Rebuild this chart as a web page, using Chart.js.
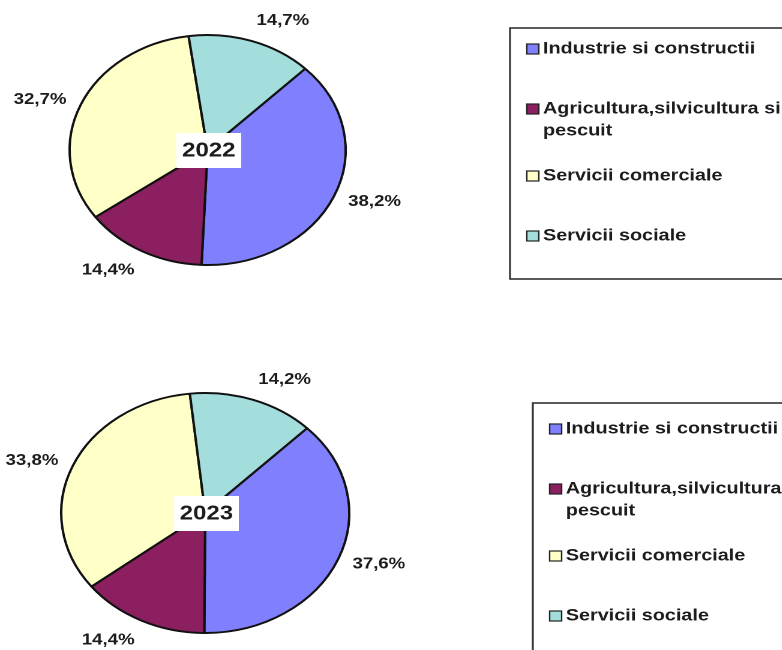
<!DOCTYPE html>
<html>
<head>
<meta charset="utf-8">
<script src="https://cdn.jsdelivr.net/npm/chart.js@4.4.0/dist/chart.umd.min.js"></script>
<style>
    html, body { margin: 0; padding: 0; background: #fff; }
    #page { position: relative; width: 782px; height: 650px; overflow: hidden; }
    /* the original picture is stretched sideways, so the pies are ellipses */
    .wrap { position: absolute; left: 0; width: 652px; height: 325px; transform: scaleX(1.2); transform-origin: 0 0; }
</style>
</head>
<body>
<div id="page">
    <div class="wrap" style="top:0"><canvas id="pie2022"></canvas></div>
    <div class="wrap" style="top:325px"><canvas id="pie2023"></canvas></div>
</div>
<script>
const categories = ['Industrie si constructii', 'Agricultura,silvicultura si pescuit', 'Servicii comerciale', 'Servicii sociale'];
const years = ['2022', '2023'];
const values2022 = [38.2, 14.4, 32.7, 14.7];
const values2023 = [37.6, 14.4, 33.8, 14.2];
const colors = ['#8080ff', '#8b1f5f', '#ffffc8', '#a3dedc'];

const FONT = '"Liberation Sans", Arial, sans-serif';
const TEXT = '#1c1c1c';

function wrapText(ctx, text, maxWidth) {
    const words = text.split(' ');
    const lines = [];
    let line = '';
    words.forEach(w => {
        const test = line ? line + ' ' + w : w;
        if (line && ctx.measureText(test).width > maxWidth) {
            lines.push(line);
            line = w;
        } else {
            line = test;
        }
    });
    if (line) lines.push(line);
    return lines;
}

// Procente in afara feliilor + anul in centru
const sliceLabels = {
    id: 'sliceLabels',
    afterDatasetsDraw(chart, args, opts) {
        const ctx = chart.ctx;
        const meta = chart.getDatasetMeta(0);
        const data = chart.data.datasets[0].data;
        ctx.save();
        ctx.font = 'bold 15.5px ' + FONT;
        ctx.fillStyle = TEXT;
        let cx = 0, cy = 0;
        meta.data.forEach((arc, i) => {
            const p = arc.getProps(['x', 'y', 'startAngle', 'endAngle', 'outerRadius'], true);
            cx = p.x; cy = p.y;
            const mid = (p.startAngle + p.endAngle) / 2;
            const c = Math.cos(mid), s = Math.sin(mid);
            const r = p.outerRadius + 13;
            const px = p.x + r * c;
            const py = p.y + r * s;
            ctx.textAlign = c >= 0 ? 'left' : 'right';
            if (Math.abs(s) > 0.75) {
                ctx.textBaseline = s < 0 ? 'bottom' : 'top';
            } else {
                ctx.textBaseline = 'middle';
            }
            ctx.fillText(data[i].toFixed(1).replace('.', ',') + '%', px, py);
        });
        // caseta cu anul
        ctx.fillStyle = '#fff';
        ctx.fillRect(cx - 26, cy - 17, 54, 35);
        ctx.fillStyle = TEXT;
        ctx.font = 'bold 20px ' + FONT;
        ctx.textAlign = 'center';
        ctx.textBaseline = 'middle';
        ctx.fillText(opts.year, cx + 1, cy + 1);
        ctx.restore();
    }
};

// Legenda in chenar, la dreapta
const boxLegend = {
    id: 'boxLegend',
    afterDraw(chart, args, opts) {
        const ctx = chart.ctx;
        ctx.save();
        ctx.strokeStyle = '#333';
        ctx.lineWidth = 1.6;
        ctx.strokeRect(opts.x, opts.top, 400, opts.bottom - opts.top);
        ctx.font = 'bold 16.5px ' + FONT;
        ctx.textBaseline = 'middle';
        ctx.textAlign = 'left';
        let y = opts.firstRow;
        chart.data.labels.forEach((label, i) => {
            const lines = wrapText(ctx, label, 210);
            ctx.fillStyle = colors[i];
            ctx.fillRect(opts.x + 14, y - 5, 10, 10);
            ctx.strokeStyle = '#222';
            ctx.lineWidth = 1.2;
            ctx.strokeRect(opts.x + 14, y - 5, 10, 10);
            ctx.fillStyle = TEXT;
            lines.forEach((ln, j) => ctx.fillText(ln, opts.x + 27.5, y + j * 22));
            y += 60 + (lines.length - 1) * 7;
        });
        ctx.restore();
    }
};

function makePie(id, year, values, padding, legend) {
    const canvas = document.getElementById(id);
    if (!canvas) return;
    new Chart(canvas.getContext('2d'), {
        type: 'pie',
        data: {
            labels: categories,
            datasets: [{
                data: values,
                backgroundColor: colors,
                borderColor: '#111',
                borderWidth: 2
            }]
        },
        options: {
            responsive: true,
            maintainAspectRatio: false,
            devicePixelRatio: 2,
            animation: false,
            rotation: 45,
            layout: { padding: padding },
            plugins: {
                legend: { display: false },
                tooltip: { enabled: false },
                sliceLabels: { year: year },
                boxLegend: legend
            }
        },
        plugins: [sliceLabels, boxLegend]
    });
}

makePie('pie2022', years[0], values2022,
    { left: 57, top: 34, right: 363, bottom: 59 },
    { x: 425, top: 28, bottom: 279, firstRow: 49 });
makePie('pie2023', years[1], values2023,
    { left: 50, top: 67, right: 360, bottom: 16 },
    { x: 444, top: 78, bottom: 400, firstRow: 104 });
</script>
</body>
</html>
